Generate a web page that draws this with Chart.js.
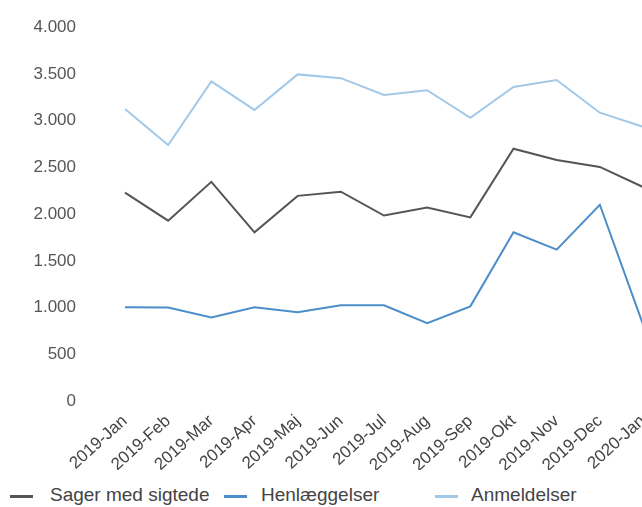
<!DOCTYPE html>
<html>
<head>
<meta charset="utf-8">
<script src="https://cdn.jsdelivr.net/npm/chart.js@4"></script>
<style>
  html, body { margin: 0; padding: 0; background: #fff; overflow: hidden; width: 642px; height: 507px; }
  #wrap { position: absolute; left: 0; top: -32px; width: 700px; height: 502px; }
  .leg { position: absolute; top: 485px; height: 20px; line-height: 20px; font-family: "Liberation Sans", Arial, sans-serif; font-size: 19px; color: #444; white-space: nowrap; }
  .mk { position: absolute; top: 495px; width: 23px; height: 3px; }
</style>
</head>
<body>
<div id="wrap"><canvas id="c" width="700" height="502"></canvas></div>
<div class="mk" style="left:10px;background:#555;"></div>
<div class="leg" style="left:50px;">Sager med sigtede</div>
<div class="mk" style="left:224px;background:#4b8ec9;"></div>
<div class="leg" style="left:261px;">Henlæggelser</div>
<div class="mk" style="left:435px;background:#a3c9e8;"></div>
<div class="leg" style="left:471px;">Anmeldelser</div>
<script>
const categories = ["2019-Jan","2019-Feb","2019-Mar","2019-Apr","2019-Maj","2019-Jun","2019-Jul","2019-Aug","2019-Sep","2019-Okt","2019-Nov","2019-Dec","2020-Jan"];
const sagerMedSigtede = [2230, 1930, 2345, 1805, 2195, 2240, 1985, 2070, 1965, 2700, 2580, 2505, 2290];
const henlaeggelser   = [1003, 1000, 895, 1003, 950, 1024, 1024, 832, 1013, 1805, 1620, 2100, 820];
const anmeldelser     = [3125, 2740, 3420, 3115, 3495, 3455, 3275, 3325, 3030, 3360, 3435, 3085, 2935];
const yTicks = [0, 500, 1000, 1500, 2000, 2500, 3000, 3500, 4000];
const seriesNames = ["Sager med sigtede", "Henlæggelser", "Anmeldelser"];

function fmt(v) { return String(v).replace(/\B(?=(\d{3})+(?!\d))/g, "."); }

const FONT = "'Liberation Sans', Arial, sans-serif";

new Chart(document.getElementById('c'), {
  type: 'line',
  data: {
    labels: categories,
    datasets: [
      { label: seriesNames[2], data: anmeldelser, borderColor: '#a3c9e8', borderWidth: 2 },
      { label: seriesNames[1], data: henlaeggelser, borderColor: '#4b8ec9', borderWidth: 2 },
      { label: seriesNames[0], data: sagerMedSigtede, borderColor: '#555555', borderWidth: 2 }
    ]
  },
  options: {
    responsive: false,
    animation: false,
    layout: { padding: { top: 26, right: 57, left: 0, bottom: 0 } },
    elements: { point: { radius: 0 }, line: { tension: 0 } },
    plugins: { legend: { display: false }, tooltip: { enabled: false } },
    scales: {
      x: {
        grid: { display: false, drawTicks: false },
        border: { display: false },
        ticks: { color: '#444', font: { family: FONT, size: 17 }, minRotation: 42, maxRotation: 42, padding: 10, autoSkip: false },
        afterFit: s => { s.height = 69; }
      },
      y: {
        min: 0, max: 4000,
        afterBuildTicks: s => { s.ticks = yTicks.map(v => ({ value: v })); },
        grid: { display: false, drawTicks: false },
        border: { display: false },
        ticks: { color: '#555', font: { family: FONT, size: 17 }, padding: 49, callback: v => fmt(v) },
        afterFit: s => { s.width = 125; }
      }
    }
  }
});
</script>
</body>
</html>
